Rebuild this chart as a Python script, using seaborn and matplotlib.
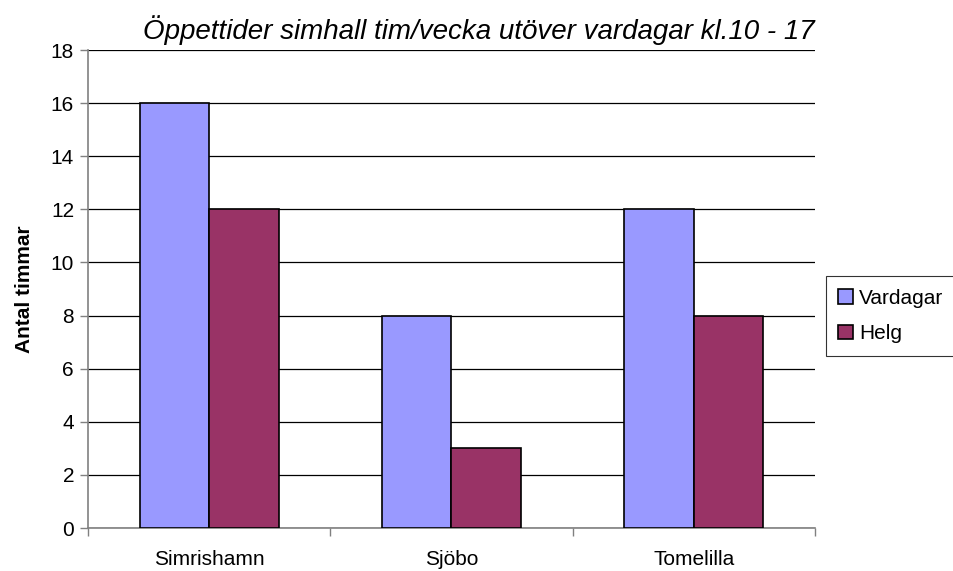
import pandas as pd
import matplotlib
matplotlib.use("Agg")
import matplotlib.pyplot as plt
import seaborn as sns

# ------------------ DATA ------------------
KOMMUNER = ["Simrishamn", "Sjöbo", "Tomelilla"]
VARDAGAR = [16, 8, 12]
HELG = [12, 3, 8]
SERIER = ["Vardagar", "Helg"]
FARGER = ["#9999FF", "#993366"]

df = pd.DataFrame({
    "kommun": KOMMUNER * 2,
    "serie": [SERIER[0]] * len(KOMMUNER) + [SERIER[1]] * len(KOMMUNER),
    "timmar": VARDAGAR + HELG,
})

# ------------------ PLOT ------------------
sns.set_style("white", {"text.color": "black", "axes.labelcolor": "black",
                        "xtick.color": "black", "ytick.color": "black"})
plt.rcParams["font.family"] = ["Liberation Sans", "DejaVu Sans"]

fig = plt.figure(figsize=(9.54, 5.71), dpi=100)
ax = fig.add_axes([0.0922, 0.0753, 0.762, 0.837])

sns.barplot(data=df, x="kommun", y="timmar", hue="serie", palette=FARGER,
            width=0.574, edgecolor="black", linewidth=1.2, saturation=1,
            errorbar=None, ax=ax, zorder=3)

ax.set_ylim(0, 18)
ax.set_yticks(range(0, 19, 2))
ax.set_xlim(-0.5, 2.5)
ax.yaxis.grid(True, color="black", linewidth=0.9, zorder=0)
ax.set_axisbelow(True)

for side in ["top", "right"]:
    ax.spines[side].set_visible(False)
for side in ["left", "bottom"]:
    ax.spines[side].set_color("#808080")
    ax.spines[side].set_linewidth(1.2)

ax.tick_params(axis="y", length=6, width=1, color="#808080", labelcolor="black",
               labelsize=15, left=True, pad=4)
ax.tick_params(axis="x", length=0, labelsize=15, labelcolor="black", pad=16)
ax.set_xticks([-0.5, 0.5, 1.5, 2.5], minor=True)
ax.tick_params(axis="x", which="minor", length=6, width=1, color="#808080", bottom=True)

ax.set_xlabel("")
ax.set_ylabel("Antal timmar", fontsize=15, fontweight="bold", labelpad=12, color="black")
ax.set_title("Öppettider simhall tim/vecka utöver vardagar kl.10 - 17",
             fontsize=20, style="italic", pad=8, x=0.537, color="black")

leg = ax.legend(loc="center left", bbox_to_anchor=(1.015, 0.4435), fontsize=15,
                frameon=True, fancybox=False, edgecolor="black",
                handlelength=0.7, handleheight=0.7, handletextpad=0.3,
                borderpad=0.6, labelspacing=0.8, borderaxespad=0)
leg.get_frame().set_linewidth(0.8)
for t in leg.get_texts():
    t.set_color("black")

fig.savefig("out.png", dpi=100)
plt.close(fig)
